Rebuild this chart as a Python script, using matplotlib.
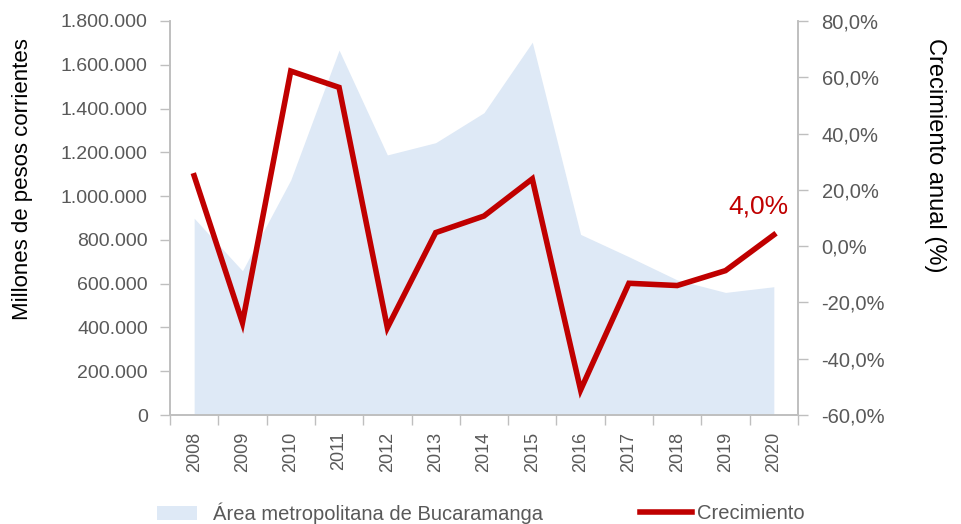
import matplotlib.pyplot as plt
from matplotlib.ticker import FuncFormatter, FixedLocator
from matplotlib.patches import Patch
from matplotlib.lines import Line2D

plt.rcParams['font.family'] = ['Liberation Sans', 'DejaVu Sans']

# Data
years = ['2008', '2009', '2010', '2011', '2012', '2013', '2014',
         '2015', '2016', '2017', '2018', '2019', '2020']
area_values = [899000, 659000, 1074000, 1667000, 1188000, 1244000, 1381000,
               1703000, 825000, 723000, 617000, 560000, 586000]
growth = [25.0, -27.2, 62.2, 56.4, -29.0, 4.8, 10.7,
          23.9, -51.1, -13.2, -14.0, -8.7, 4.0]

AREA_COLOR = '#dee9f6'
LINE_COLOR = '#c00000'
GRID_GRAY = '#bfbfbf'
TEXT_GRAY = '#595959'

fig = plt.figure(figsize=(9.62, 5.24), dpi=100)
ax = fig.add_axes([0.1767, 0.208, 0.6528, 0.752])
ax2 = ax.twinx()

x = list(range(len(years)))
ax.fill_between(x, area_values, color=AREA_COLOR, lw=0)
ax2.plot(x, growth, color=LINE_COLOR, lw=4, solid_joinstyle='miter')

# left axis
ax.set_xlim(-0.5, len(years) - 0.5)
ax.set_ylim(0, 1800000)
ax.set_yticks(range(0, 1800001, 200000))
ax.yaxis.set_major_formatter(FuncFormatter(lambda v, p: f'{int(v):,}'.replace(',', '.')))
ax.set_ylabel('Millones de pesos corrientes', fontsize=16, color='black')
ax.yaxis.set_label_coords(-0.218, 0.60)

# categories between tick marks
ax.xaxis.set_major_locator(FixedLocator([i - 0.5 for i in range(len(years) + 1)]))
ax.xaxis.set_major_formatter(FuncFormatter(lambda v, p: ''))
ax.set_xticks(x, minor=True)
ax.set_xticklabels(years, minor=True, rotation=90, fontsize=13, color=TEXT_GRAY)
ax.tick_params(axis='x', which='minor', length=0, pad=12)
ax.tick_params(axis='x', which='major', length=7, color=GRID_GRAY, width=1)

# right axis
ax2.set_ylim(-60, 80)
ax2.set_yticks(range(-60, 81, 20))
ax2.yaxis.set_major_formatter(FuncFormatter(lambda v, p: f'{v:.1f}%'.replace('.', ',')))
ax2.set_ylabel('Crecimiento anual (%)', fontsize=17, color='black', rotation=270)
ax2.yaxis.set_label_coords(1.236, 0.66)

ax.tick_params(axis='y', labelsize=14, labelcolor=TEXT_GRAY, color=GRID_GRAY,
               length=7, width=1, pad=9)
ax2.tick_params(axis='y', labelsize=14.5, labelcolor=TEXT_GRAY, color=GRID_GRAY,
                length=7, width=1, pad=10)
for a in (ax, ax2):
    a.spines['top'].set_visible(False)
    for s in ('left', 'right', 'bottom'):
        a.spines[s].set_color(GRID_GRAY)
        a.spines[s].set_linewidth(1.2)

ax2.annotate('4,0%', (x[-1], growth[-1]), xytext=(-11, 12), textcoords='offset points',
             color=LINE_COLOR, fontsize=19, ha='center', va='bottom')

# two separate legend entries, as in the original
leg1 = fig.legend([Patch(facecolor=AREA_COLOR, edgecolor='none')],
                  ['Área metropolitana de Bucaramanga'],
                  loc='center left', bbox_to_anchor=(157 / 962, 0.02), frameon=False,
                  fontsize=14.5, handlelength=2.0, handletextpad=0.8,
                  borderpad=0, borderaxespad=0, labelcolor=TEXT_GRAY)
leg2 = fig.legend([Line2D([0], [0], color=LINE_COLOR, lw=4)], ['Crecimiento'],
                  loc='center left', bbox_to_anchor=(640 / 962, 0.02), frameon=False,
                  fontsize=14.5, handlelength=2.6, handletextpad=0.25,
                  borderpad=0, borderaxespad=0, labelcolor=TEXT_GRAY)

fig.savefig('out.png', dpi=100)
